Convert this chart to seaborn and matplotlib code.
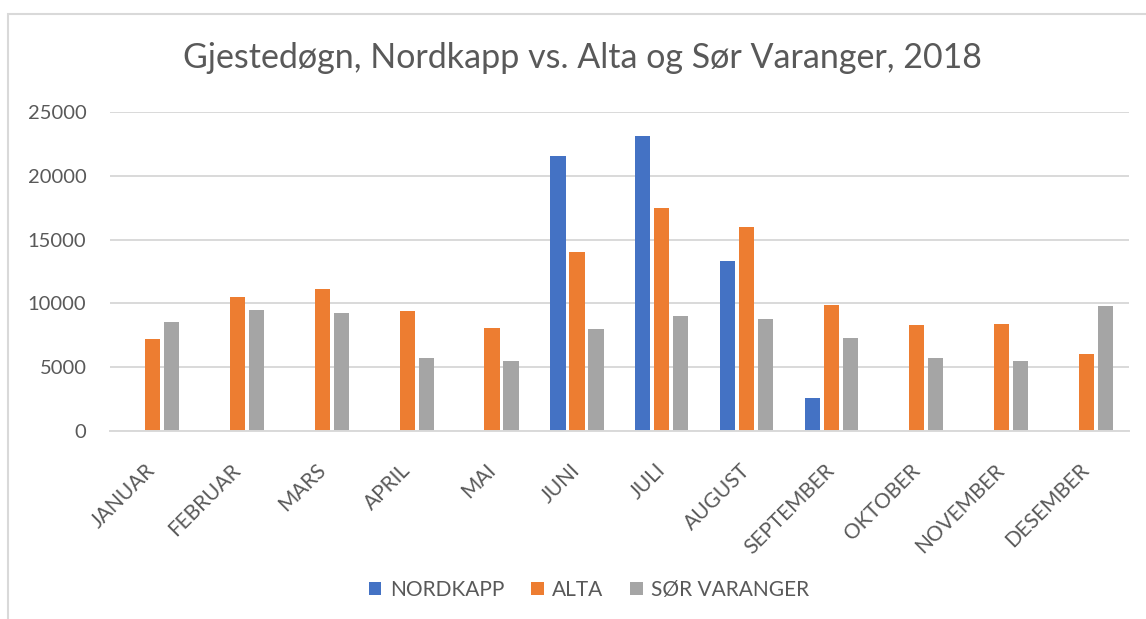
import numpy as np
import pandas as pd
import seaborn as sns
from matplotlib import pyplot as plt
from matplotlib.patches import Rectangle

# Data
months = ["JANUAR", "FEBRUAR", "MARS", "APRIL", "MAI", "JUNI", "JULI",
          "AUGUST", "SEPTEMBER", "OKTOBER", "NOVEMBER", "DESEMBER"]
nordkapp = [np.nan, np.nan, np.nan, np.nan, np.nan, 21590, 23110,
            13310, 2570, np.nan, np.nan, np.nan]
alta = [7210, 10510, 11110, 9440, 8100, 14020, 17490,
        15970, 9860, 8310, 8420, 6040]
sor_varanger = [8520, 9510, 9230, 5750, 5470, 7980, 9000,
                8760, 7270, 5750, 5520, 9780]
series = ["NORDKAPP", "ALTA", "SØR VARANGER"]
colors = ["#4472C4", "#ED7D31", "#A5A5A5"]

df = pd.DataFrame({
    "month": months * 3,
    "serie": [s for s in series for _ in months],
    "value": nordkapp + alta + sor_varanger,
}).dropna()

sns.set_style("white")
plt.rcParams["font.family"] = ["Lato", "DejaVu Sans"]
text_col = "#595959"
grid_col = "#D9D9D9"

fig = plt.figure(figsize=(11.46, 6.19), dpi=100)
ax = fig.add_axes([0.096, 0.3037, 0.889, 0.5153])

sns.barplot(data=df, x="month", y="value", hue="serie", order=months,
            hue_order=series, palette=colors, saturation=1, width=0.67,
            gap=0.2, linewidth=0, errorbar=None, ax=ax)

ax.set_ylim(0, 25000)
ax.set_xlim(-0.5, 11.5)
ax.set_yticks(range(0, 25001, 5000))
ax.yaxis.grid(True, color=grid_col, linewidth=1.4)
ax.set_axisbelow(True)
for s in ["top", "right", "left"]:
    ax.spines[s].set_visible(False)
ax.spines["bottom"].set_color(grid_col)
ax.spines["bottom"].set_linewidth(1.4)
ax.set_xlabel("")
ax.set_ylabel("")
ax.tick_params(axis="y", length=0, pad=17, labelsize=14.5, labelcolor=text_col)
ax.tick_params(axis="x", length=0, pad=26, labelsize=15, labelcolor=text_col)
plt.setp(ax.get_xticklabels(), rotation=45, ha="right",
         rotation_mode="anchor", va="center")

ax.legend(loc="center", bbox_to_anchor=(0.514, 1 - 590 / 619),
          bbox_transform=fig.transFigure, ncol=3, frameon=False,
          fontsize=15, labelcolor=text_col, handlelength=0.6,
          handleheight=0.6, handletextpad=0.4, columnspacing=1.3)

fig.text(0.508, 0.906, "Gjestedøgn, Nordkapp vs. Alta og Sør Varanger, 2018",
         ha="center", va="center", fontsize=24.5, color=text_col)

# chart frame (left and top edges visible)
fig.patches.append(Rectangle((8 / 1146, -0.1), 1.2, 1 - 14 / 619 + 0.1,
                             transform=fig.transFigure, fill=False,
                             edgecolor=grid_col, linewidth=1.5))

fig.savefig("out.png", dpi=100)
plt.close()
